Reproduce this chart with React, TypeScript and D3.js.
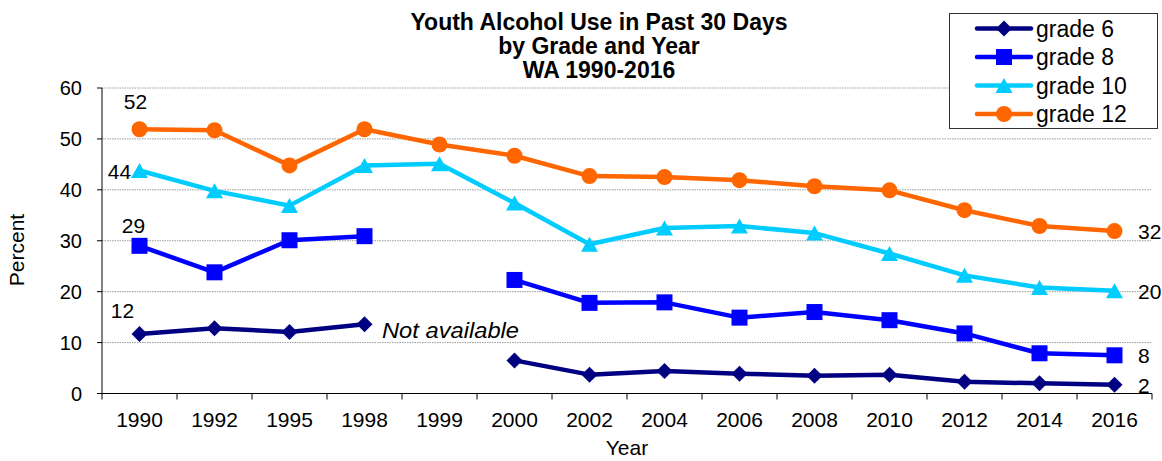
import React from "react";
import * as d3 from "d3";

const years = ["1990","1992","1995","1998","1999","2000","2002","2004","2006","2008","2010","2012","2014","2016"];
const grade6: (number | null)[] = [11.7,12.8,12.1,13.6,null,6.5,3.7,4.4,3.9,3.5,3.7,2.3,2.0,1.7];
const grade8: (number | null)[] = [29.0,23.8,30.1,30.9,null,22.3,17.8,17.9,14.9,16.0,14.4,11.8,7.9,7.5];
const grade10: (number | null)[] = [43.8,39.8,36.9,44.8,45.1,37.4,29.3,32.5,32.9,31.5,27.5,23.2,20.8,20.2];
const grade12: (number | null)[] = [51.9,51.7,44.8,51.9,48.9,46.7,42.7,42.5,41.9,40.7,39.9,36.0,32.9,31.9];
const yTicks = [0,10,20,30,40,50,60];
const titleLines = ["Youth Alcohol Use in Past 30 Days","by Grade and Year","WA 1990-2016"];

type Series = { name: string; values: (number | null)[]; color: string; marker: string };
const series: Series[] = [
  { name: "grade 6", values: grade6, color: "#000080", marker: "diamond" },
  { name: "grade 8", values: grade8, color: "#0000FF", marker: "square" },
  { name: "grade 10", values: grade10, color: "#00CCFF", marker: "triangle" },
  { name: "grade 12", values: grade12, color: "#FF6600", marker: "circle" },
];

const FONT = "Arial, 'Liberation Sans', sans-serif";

function Marker({ type, x, y, color }: { type: string; x: number; y: number; color: string }) {
  if (type === "diamond") {
    const r = 8;
    return <path d={`M${x},${y - r}L${x + r},${y}L${x},${y + r}L${x - r},${y}Z`} fill={color} />;
  }
  if (type === "square") {
    const s = 8;
    return <rect x={x - s} y={y - s} width={2 * s} height={2 * s} fill={color} />;
  }
  if (type === "triangle") {
    const w = 8.5, h = 7.5;
    return <path d={`M${x},${y - h}L${x + w},${y + h}L${x - w},${y + h}Z`} fill={color} />;
  }
  return <circle cx={x} cy={y} r={8} fill={color} />;
}

export default function App() {
  const W = 1162, H = 461;
  const left = 102, right = 1152, top = 88, bottom = 393.5;
  const x = d3.scaleBand<string>().domain(years).range([left, right]).padding(0);
  const y = d3.scaleLinear().domain([0, 60]).range([bottom, top]);
  const cx = (i: number) => (x(years[i]) as number) + x.bandwidth() / 2;
  const line = d3
    .line<number | null>()
    .defined((d) => d != null)
    .x((_, i) => cx(i))
    .y((d) => y(d as number));

  const lastIdx = years.length - 1;
  const firstLabels = [
    { v: grade12[0], text: "52", dx: -4, dy: -20, anchor: "middle" },
    { v: grade10[0], text: "44", dx: -20, dy: 9, anchor: "middle" },
    { v: grade8[0], text: "29", dx: -6, dy: -13, anchor: "middle" },
    { v: grade6[0], text: "12", dx: -17, dy: -16, anchor: "middle" },
  ];
  const lastLabels = [
    { v: grade12[lastIdx], text: "32", dy: 8 },
    { v: grade10[lastIdx], text: "20", dy: 8 },
    { v: grade8[lastIdx], text: "8", dy: 8 },
    { v: grade6[lastIdx], text: "2", dy: 8 },
  ];

  return (
    <svg
      width={W}
      height={H}
      style={{ position: "absolute", left: 0, top: 0, background: "#fff" }}
      fontFamily={FONT}
    >
      <rect x={0} y={0} width={W} height={H} fill="#fff" />
      {/* gridlines */}
      {yTicks.filter((t) => t > 0).map((t) => (
        <line key={t} x1={left} x2={right} y1={y(t)} y2={y(t)} stroke="#9a9a9a" strokeWidth={1} strokeDasharray="1.5,1" />
      ))}
      {/* y axis */}
      <line x1={left} x2={left} y1={top} y2={bottom} stroke="#000" strokeWidth={1} />
      {yTicks.map((t) => (
        <g key={t}>
          <line x1={left - 5} x2={left} y1={y(t)} y2={y(t)} stroke="#000" />
          <text x={82} y={y(t)} dy="0.35em" textAnchor="end" fontSize={20}>{t}</text>
        </g>
      ))}
      {/* x axis */}
      <line x1={left} x2={right} y1={bottom} y2={bottom} stroke="#000" strokeWidth={1} />
      {years.map((yr) => (
        <line key={"t" + yr} x1={x(yr) as number} x2={x(yr) as number} y1={bottom} y2={bottom + 6} stroke="#000" />
      ))}
      <line x1={right} x2={right} y1={bottom} y2={bottom + 6} stroke="#000" />
      {years.map((yr, i) => (
        <text key={"l" + yr} x={cx(i)} y={427} textAnchor="middle" fontSize={21}>{yr}</text>
      ))}
      <text x={(left + right) / 2} y={455} textAnchor="middle" fontSize={21}>Year</text>
      <text transform={`translate(24,${250}) rotate(-90)`} textAnchor="middle" fontSize={21}>Percent</text>

      {/* series */}
      {series.map((s) => (
        <g key={s.name}>
          <path d={line(s.values) || ""} fill="none" stroke={s.color} strokeWidth={4.5} strokeLinejoin="round" />
          {s.values.map((v, i) =>
            v == null ? null : <Marker key={i} type={s.marker} x={cx(i)} y={y(v)} color={s.color} />
          )}
        </g>
      ))}

      {/* data labels */}
      {firstLabels.map((l) => (
        <text key={l.text} x={cx(0) + l.dx} y={y(l.v as number) + l.dy} textAnchor={l.anchor as any} fontSize={21}>{l.text}</text>
      ))}
      {lastLabels.map((l) => (
        <text key={l.text} x={1138} y={y(l.v as number) + l.dy} textAnchor="start" fontSize={21}>{l.text}</text>
      ))}
      <text x={382} y={338} fontSize={22.5} fontStyle="italic" textLength={137} lengthAdjust="spacingAndGlyphs">Not available</text>

      {/* title */}
      {titleLines.map((t, i) => (
        <text key={t} x={599} y={30 + i * 24} textAnchor="middle" fontSize={23} fontWeight="bold">{t}</text>
      ))}

      {/* legend */}
      <rect x={949.5} y={13.5} width={208} height={115} fill="#fff" stroke="#333" strokeWidth={1} />
      {series.map((s, i) => {
        const ly = 28.5 + i * 28.5;
        return (
          <g key={"lg" + s.name}>
            <line x1={977} x2={1031} y1={ly} y2={ly} stroke={s.color} strokeWidth={4.5} strokeLinecap="round" />
            <Marker type={s.marker} x={1004} y={ly} color={s.color} />
            <text x={1036} y={ly} dy="0.35em" fontSize={23}>{s.name}</text>
          </g>
        );
      })}
    </svg>
  );
}
